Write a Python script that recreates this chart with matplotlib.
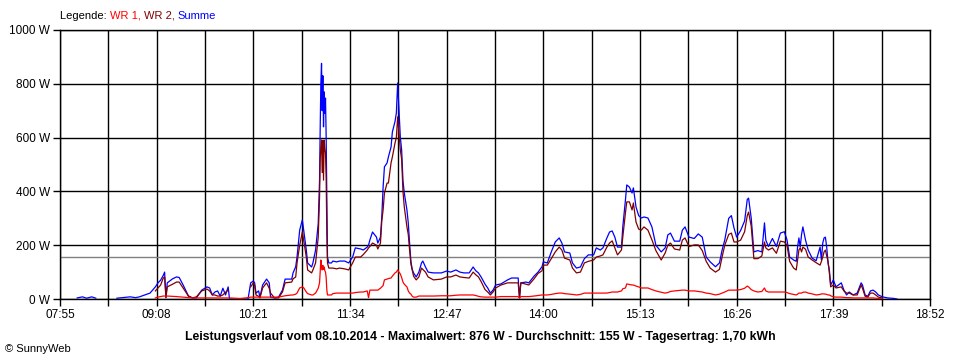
import numpy as np
import matplotlib
matplotlib.use("Agg")
import matplotlib.pyplot as plt
from matplotlib.ticker import FixedLocator, FuncFormatter

nan = np.nan

# Messzeitpunkte (HH:MM oder HH:MM:SS)
zeit = [
    "08:08", "08:12", "08:15", "08:19", "08:22", "08:26", "08:38", "08:44", "08:48", "08:52", "08:55", "08:59", "09:03",
    "09:07", "09:09", "09:11", "09:13", "09:14", "09:15", "09:16", "09:20", "09:23", "09:25", "09:28", "09:32",
    "09:35", "09:38", "09:42", "09:46", "09:48", "09:50", "09:52", "09:54", "09:56", "09:58", "10:00", "10:02",
    "10:03", "10:11", "10:17", "10:19", "10:21", "10:22", "10:23", "10:25", "10:26", "10:28", "10:31", "10:33",
    "10:34", "10:37", "10:40", "10:43", "10:45", "10:50", "10:51", "10:53", "10:54", "10:56", "10:58", "10:59",
    "11:01", "11:02", "11:05", "11:06", "11:08", "11:10", "11:11", "11:11:30", "11:12", "11:12:30", "11:13", "11:13:30",
    "11:14", "11:14:30", "11:15", "11:15:30", "11:16", "11:16:30", "11:17", "11:18", "11:20", "11:21", "11:24", "11:26",
    "11:30", "11:33", "11:36", "11:38", "11:42", "11:44", "11:47", "11:48", "11:49", "11:51", "11:54", "11:55",
    "11:57", "11:58", "11:59", "12:00", "12:02", "12:03", "12:05", "12:06", "12:08", "12:09", "12:10", "12:11",
    "12:12", "12:13", "12:14", "12:15", "12:17", "12:18", "12:19", "12:20", "12:21", "12:22", "12:24", "12:26",
    "12:28", "12:29", "12:31", "12:33", "12:37", "12:43", "12:47", "12:50", "12:54", "12:57", "13:00", "13:04",
    "13:07", "13:09", "13:11", "13:13", "13:16", "13:18", "13:20", "13:22", "13:24", "13:28", "13:33", "13:36",
    "13:41", "13:42", "13:43", "13:47", "13:49", "13:53", "13:56", "13:59", "14:00", "14:03", "14:06", "14:09",
    "14:12", "14:14", "14:16", "14:20", "14:22", "14:25", "14:28", "14:31", "14:34", "14:38", "14:40", "14:43",
    "14:45", "14:48", "14:50", "14:52", "14:54", "14:56", "14:59", "15:00", "15:02", "15:03", "15:05", "15:07",
    "15:08", "15:10", "15:12", "15:14", "15:16", "15:19", "15:22", "15:25", "15:29", "15:32", "15:34", "15:36",
    "15:39", "15:43", "15:45", "15:47", "15:50", "15:54", "15:57", "16:00", "16:03", "16:06", "16:10", "16:13",
    "16:15", "16:17", "16:20", "16:22", "16:24", "16:26", "16:29", "16:32", "16:34", "16:35", "16:37", "16:39",
    "16:42", "16:45", "16:47", "16:48", "16:50", "16:53", "16:56", "16:59", "17:02", "17:04", "17:06", "17:09",
    "17:11", "17:12", "17:13", "17:14", "17:15", "17:16", "17:18", "17:20", "17:23", "17:26", "17:29", "17:30",
    "17:31", "17:32", "17:33", "17:34", "17:35", "17:36", "17:37", "17:39", "17:41", "17:45", "17:47", "17:49",
    "17:51", "17:54", "17:57", "18:00", "18:01", "18:03", "18:05", "18:07", "18:09", "18:11", "18:13", "18:16",
    "18:20", "18:25", "18:27",
]

# Summe in W
summe = [
    4, 8, 3, 8, 3, nan, 3, 6, 8, 5, 8, 15, 22,
    45, 60, 70, 88, 100, 5, 60, 75, 82, 80, 52, 11,
    4, 4, 33, 45, 41, 15, 26, 30, 11, 40, 15, 45,
    0, 0, 0, 60, 67, 60, 22, 30, 7, 52, 74, 60,
    7, 4, 7, 33, 74, 74, 97, 120, 156, 256, 294, 256,
    182, 134, 119, 134, 182, 280, 442, 640, 803, 876, 700, 830,
    640, 770, 690, 747, 600, 368, 156, 134, 134, 141, 138, 141,
    141, 134, 156, 190, 186, 182, 193, 200, 219, 249, 230, 208,
    230, 305, 416, 491, 506, 528, 565, 621, 660, 691, 803, 703,
    602, 554, 440, 394, 331, 283, 208, 140, 110, 97, 82, 100,
    134, 141, 119, 100, 97, 97, 104, 100, 108, 100, 97, 97,
    119, 105, 97, 82, 55, 41, 22, 33, 52, 56, 71, 78,
    78, 5, 60, 63, 60, 85, 100, 120, 138, 134, 175, 212,
    227, 208, 175, 171, 134, 115, 119, 150, 164, 164, 190, 182,
    190, 227, 249, 253, 230, 193, 193, 268, 368, 424, 416, 394,
    413, 342, 310, 301, 305, 301, 268, 200, 175, 190, 238, 245,
    215, 215, 256, 268, 230, 225, 242, 230, 156, 138, 120, 134,
    182, 219, 300, 310, 264, 230, 255, 290, 370, 375, 300, 175,
    180, 175, 283, 219, 195, 225, 195, 245, 250, 220, 156, 145,
    140, 193, 227, 193, 240, 268, 219, 182, 152, 142, 193, 145,
    208, 227, 230, 193, 134, 108, 52, 71, 45, 60, 33, 15,
    26, 15, 22, 60, 52, 15, 10, 30, 33, 26, 15, 8,
    4, 2, 0,
]

# WR 2 in W
wr2 = [
    nan, nan, nan, nan, nan, nan, nan, nan, nan, nan, nan, nan, nan,
    30, 41, 52, 78, 82, 5, 45, 55, 63, 63, 41, 11,
    4, 8, 30, 37, 30, 15, 15, 11, 11, 15, 25, 33,
    nan, nan, nan, 45, 60, 50, 15, 10, 4, 41, 60, 40,
    22, 4, 4, 26, 60, 63, 75, 82, 134, 200, 249, 219,
    156, 108, 97, 108, 134, 230, 379, 520, 565, 591, 470, 590,
    442, 591, 560, 543, 450, 245, 134, 115, 115, 115, 112, 115,
    112, 108, 134, 156, 156, 165, 182, 190, 195, 208, 200, 186,
    208, 290, 331, 394, 431, 431, 506, 528, 580, 600, 677, 617,
    554, 520, 400, 342, 268, 240, 182, 130, 108, 85, 71, 82,
    115, 110, 100, 82, 71, 74, 82, 82, 89, 82, 80, 78,
    100, 90, 82, 65, 35, 26, 15, 26, 41, 52, 60, 60,
    60, 5, 60, 55, 52, 75, 95, 105, 126, 126, 150, 175,
    193, 182, 152, 145, 115, 97, 100, 134, 140, 145, 156, 160,
    164, 193, 208, 216, 190, 164, 182, 230, 320, 361, 361, 331,
    357, 286, 260, 256, 268, 256, 220, 180, 145, 171, 200, 208,
    186, 182, 219, 227, 195, 201, 201, 180, 140, 115, 100, 110,
    156, 200, 240, 245, 212, 212, 219, 250, 310, 323, 270, 150,
    150, 160, 212, 190, 182, 190, 170, 215, 212, 200, 140, 115,
    108, 145, 182, 190, 175, 193, 185, 156, 145, 135, 126, 140,
    156, 175, 182, 160, 140, 97, 45, 52, 41, 45, 30, 22,
    22, 15, 15, 52, 40, 10, 7, 22, 22, 15, 7, 4,
    nan, nan, nan,
]

# WR 1 in W
wr1 = [
    nan, nan, nan, nan, nan, nan, nan, nan, nan, nan, nan, nan, nan,
    4, 7, 9, 11, 11, 11, 11, 10, 9, 8, 7, 5,
    4, 4, 4, 4, 4, 4, 4, 4, 4, 4, 4, 4,
    4, 2, 5, 7, 7, 7, 7, 7, 7, 7, 7, 7,
    7, 7, 7, 10, 12, 15, 15, 18, 22, 41, 45, 42,
    26, 20, 15, 15, 22, 40, 60, 100, 145, 120, 108, 125,
    110, 119, 105, 100, 80, 33, 15, 15, 15, 20, 22, 22,
    22, 22, 22, 24, 26, 26, 30, 5, 33, 33, 33, 33,
    40, 45, 50, 71, 74, 76, 78, 85, 97, 100, 108, 100,
    93, 80, 63, 55, 45, 30, 22, 18, 10, 7, 7, 11,
    11, 11, 11, 11, 11, 12, 12, 12, 14, 15, 15, 15,
    15, 13, 10, 8, 7, 7, 7, 7, 7, 9, 9, 9,
    9, 3, 9, 9, 9, 11, 13, 15, 15, 15, 17, 20,
    22, 22, 20, 18, 17, 15, 17, 22, 22, 22, 22, 22,
    22, 22, 24, 26, 26, 26, 30, 38, 41, 56, 54, 52,
    52, 48, 45, 41, 41, 41, 35, 30, 25, 22, 24, 28,
    30, 32, 33, 33, 30, 30, 28, 26, 22, 20, 15, 18,
    22, 26, 33, 33, 33, 33, 35, 40, 48, 45, 35, 30,
    26, 28, 41, 30, 26, 26, 26, 26, 26, 24, 20, 17,
    15, 18, 22, 22, 22, 25, 26, 22, 19, 15, 17, 19,
    19, 19, 18, 17, 15, 15, 12, 8, 7, 7, 6, 5,
    5, 4, 4, 4, 4, 4, 4, 4, 4, 3, 2, 0,
    nan, nan, nan,
]

durchschnitt = 155
maximalwert = 876
tagesertrag = "1,70"
datum = "08.10.2014"

y_ticks = [0, 200, 400, 600, 800, 1000]
x_start = "07:55"
x_ende = "18:52"


def minuten(s):
    teile = [int(p) for p in s.split(":")]
    if len(teile) == 2:
        teile.append(0)
    return teile[0] * 60 + teile[1] + teile[2] / 60.0


def hhmm(v, pos=None):
    v = int(round(v))
    return "%02d:%02d" % (v // 60, v % 60)


assert len(zeit) == len(summe) == len(wr1) == len(wr2)

t = np.array([minuten(z) for z in zeit])
t0, t1 = minuten(x_start), minuten(x_ende)

plt.rcParams['font.family'] = ['Liberation Sans', 'DejaVu Sans']
fig = plt.figure(figsize=(9.6, 3.6), dpi=100)
ax = fig.add_axes([60 / 960, 1 - 299 / 360, 870 / 960, 269 / 360])

ax.plot(t, summe, color="#0000ff", lw=0.9, zorder=3)
ax.plot(t, wr2, color="#800000", lw=0.9, zorder=4)
ax.plot(t, wr1, color="#ff0000", lw=0.9, zorder=5)
ax.axhline(durchschnitt, color="#808080", lw=1.0, zorder=2)

ax.set_xlim(t0, t1)
ax.set_ylim(0, 1000)

schritt = (t1 - t0) / 9
ax.xaxis.set_major_locator(FixedLocator([t0 + k * schritt for k in range(10)]))
ax.xaxis.set_minor_locator(FixedLocator([t0 + (k + 0.5) * schritt for k in range(9)]))
ax.xaxis.set_major_formatter(FuncFormatter(hhmm))
ax.yaxis.set_major_locator(FixedLocator(y_ticks))
ax.yaxis.set_major_formatter(FuncFormatter(lambda v, p: "%d W" % v))

ax.grid(which="both", axis="x", color="black", lw=1.0, zorder=1)
ax.grid(which="major", axis="y", color="black", lw=1.0, zorder=1)
ax.set_axisbelow(True)
for s in ax.spines.values():
    s.set_linewidth(1.0)
ax.tick_params(which="both", direction="out", length=5, width=1.0, labelsize=8.5, pad=2)

fig.text(0.5, 1 - 337 / 360, "Leistungsverlauf vom %s - Maximalwert: %d W - Durchschnitt: %d W - Tagesertrag: %s kWh"
         % (datum, maximalwert, durchschnitt, tagesertrag),
         ha="center", va="center", fontsize=8.8, fontweight="bold")
fig.text(5 / 960, 1 - 349 / 360, "\u00a9 SunnyWeb", ha="left", va="center", fontsize=8)

# Legende mit farbigen Teilen
teile = [("Legende: ", "black"), ("WR 1, ", "#ff0000"), ("WR 2, ", "#800000"), ("Summe", "#0000ff")]
renderer = fig.canvas.get_renderer()
x = 60 / 960
for text, farbe in teile:
    tx = fig.text(x, 1 - 16 / 360, text, color=farbe, fontsize=8, ha="left", va="center")
    bb = tx.get_window_extent(renderer=renderer)
    x += bb.width / fig.bbox.width

fig.savefig("out.png", dpi=100)
